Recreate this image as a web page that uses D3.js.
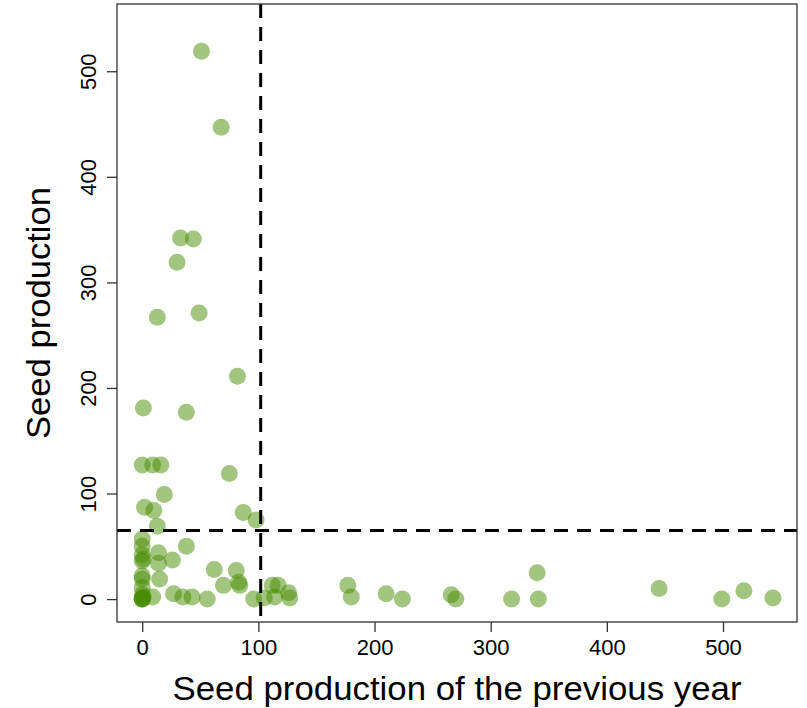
<!DOCTYPE html>
<html>
<head>
<meta charset="utf-8">
<script src="https://cdn.jsdelivr.net/npm/d3@7"></script>
<style>
  html, body { margin: 0; padding: 0; background: #fff; }
  svg { display: block; font-family: "Liberation Sans", Arial, sans-serif; }
</style>
</head>
<body>
<svg id="chart" width="807" height="708"></svg>
<script>
// Seed production of the previous year (x) vs seed production (y)
const prevYear = [
  51, 68, 33, 44, 30, 13, 49, 82, 1, 38,
  0, 9, 16, 75, 19, 2, 10, 87, 98, 13,
  0, 0, 38, 0, 14, 1, 14, 26, 62, 81,
  0, 15, 70, 83, 84, 0, 1, 0, 0, 0, 9, 27, 35, 43, 56, 96,
  112, 117, 114, 105, 126, 127, 177, 180, 210, 224,
  266, 270, 318, 340, 341, 445, 499, 518, 543,
  0, 0, 0, 0
];
const seedProd = [
  519, 447, 342, 341, 319, 267, 271, 211, 181, 177,
  127, 127, 127, 119, 99, 87, 84, 82, 75, 69,
  57, 50, 50, 42, 44, 38, 34, 37, 28, 27,
  22, 19, 13, 16, 13, 11, 2, 0, 0, 0, 2, 5, 2, 2, 0, 0,
  13, 13, 2, 1, 6, 1, 13, 2, 5, 0,
  4, 0, 0, 25, 0, 10, 0, 8, 1,
  36, 19, 4, 1
];
const xTicks = [0, 100, 200, 300, 400, 500];
const yTicks = [0, 100, 200, 300, 400, 500];
const refX = 102;
const refY = 65;

const svg = d3.select("#chart");
const pL = 117, pR = 797, pT = 4, pB = 622;

const x = d3.scaleLinear().domain([-21.7, 563.7]).range([pL, pR]);
const y = d3.scaleLinear().domain([-21.7, 563.7]).range([pB, pT]);

// points
const pts = d3.zip(prevYear, seedProd);
svg.append("g")
  .selectAll("circle")
  .data(pts)
  .join("circle")
  .attr("cx", d => x(d[0]))
  .attr("cy", d => y(d[1]))
  .attr("r", 8.5)
  .attr("fill", "#458B00")
  .attr("fill-opacity", 0.5);

// reference dashed lines
svg.append("line")
  .attr("x1", x(refX)).attr("x2", x(refX))
  .attr("y1", pT).attr("y2", pB)
  .attr("stroke", "#000").attr("stroke-width", 3)
  .attr("stroke-dasharray", "14,9");
svg.append("line")
  .attr("x1", pL).attr("x2", pR)
  .attr("y1", y(refY)).attr("y2", y(refY))
  .attr("stroke", "#000").attr("stroke-width", 3)
  .attr("stroke-dasharray", "14,9");

// box
svg.append("rect")
  .attr("x", pL).attr("y", pT)
  .attr("width", pR - pL).attr("height", pB - pT)
  .attr("fill", "none").attr("stroke", "#333").attr("stroke-width", 1.3);

// x axis
const xAxis = d3.axisBottom(x).tickValues(xTicks).tickSize(10).tickSizeOuter(0).tickPadding(7);
const gx = svg.append("g").attr("transform", `translate(0,${pB})`).call(xAxis);
gx.select(".domain").remove();
gx.selectAll(".tick line").attr("stroke", "#333").attr("stroke-width", 1.3);
gx.selectAll(".tick text").attr("font-size", 22).attr("fill", "#000")
  .attr("font-family", "Liberation Sans, Arial, sans-serif");

// y axis
const yAxis = d3.axisLeft(y).tickValues(yTicks).tickSize(10).tickSizeOuter(0).tickPadding(8);
const gy = svg.append("g").attr("transform", `translate(${pL},0)`).call(yAxis);
gy.select(".domain").remove();
gy.selectAll(".tick line").attr("stroke", "#333").attr("stroke-width", 1.3);
gy.selectAll(".tick text")
  .attr("font-size", 22).attr("fill", "#000")
  .attr("font-family", "Liberation Sans, Arial, sans-serif")
  .attr("text-anchor", "middle")
  .attr("x", 0).attr("y", 0).attr("dy", null)
  .attr("transform", "translate(-21,0) rotate(-90)");

// axis titles
svg.append("text")
  .attr("x", (pL + pR) / 2).attr("y", 700)
  .attr("text-anchor", "middle")
  .attr("font-size", 33).attr("fill", "#000")
  .attr("textLength", 569).attr("lengthAdjust", "spacingAndGlyphs")
  .text("Seed production of the previous year");

svg.append("text")
  .attr("transform", `translate(50,${(pT + pB) / 2}) rotate(-90)`)
  .attr("text-anchor", "middle")
  .attr("font-size", 33).attr("fill", "#000")
  .attr("textLength", 252).attr("lengthAdjust", "spacingAndGlyphs")
  .text("Seed production");
</script>
</body>
</html>
